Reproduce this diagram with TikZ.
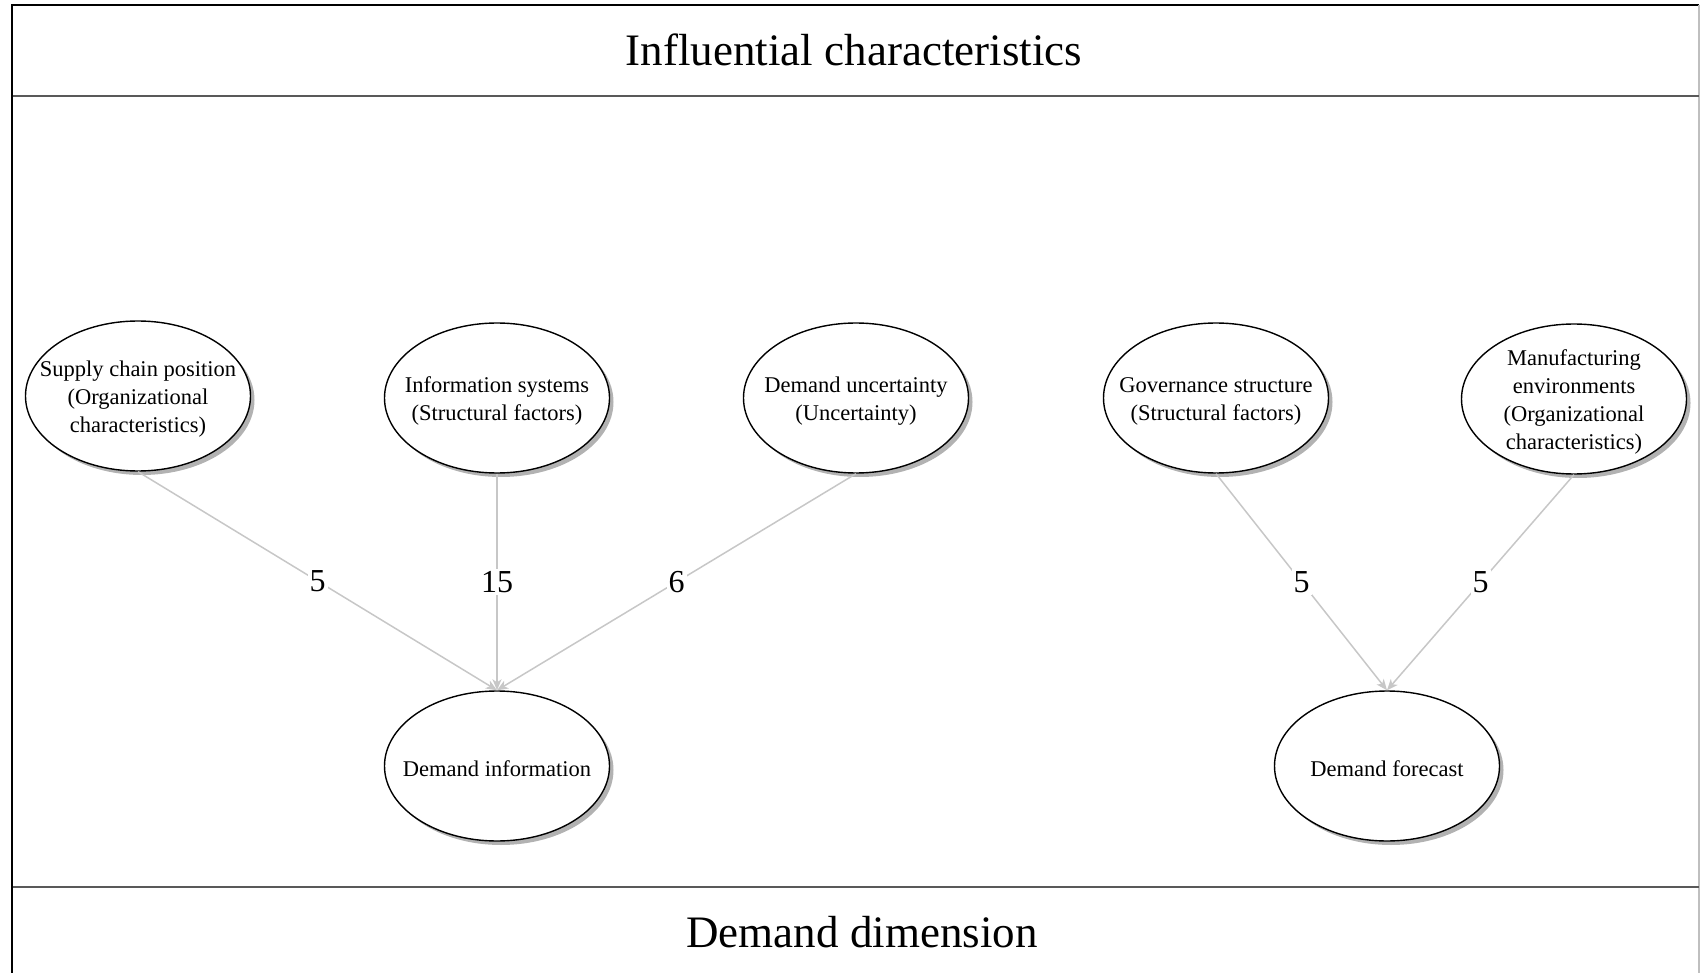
\documentclass[tikz,border=0pt]{standalone}
\usepackage{fontspec}
\setmainfont{Liberation Serif}
\usetikzlibrary{shapes.geometric,arrows.meta,shadows}

\tikzset{
  factor/.style={ellipse, draw=black, line width=1.4pt, fill=white,
    minimum width=225pt, minimum height=150pt, inner sep=0pt,
    drop shadow={shadow xshift=4pt, shadow yshift=-4pt, opacity=0.3, fill=black}},
  caption/.style={align=center, inner sep=0pt, yshift=-3pt,
    font=\fontsize{22.5}{28}\selectfont},
  link/.style={draw=black!22, line width=1.5pt,
    -{Stealth[length=11pt,width=9pt,inset=3pt]}},
  count/.style={fill=white, inner sep=2pt, font=\fontsize{32}{36}\selectfont},
  heading/.style={font=\fontsize{45}{50}\selectfont},
  rule/.style={line width=2.5pt, draw=black!65},
}

\begin{document}
\begin{tikzpicture}[x=1pt,y=-1pt]
  \useasboundingbox (0,0) rectangle (1700,973);

  % frame
  \draw[line width=2pt, black] (12,973) -- (12,5) -- (1699,5);
  \draw[line width=1.5pt, black!25] (1699,5) -- (1699,973);

  % header and footer bands
  \draw[rule] (13,96) -- (1699,96);
  \draw[rule] (13,887) -- (1699,887);
  \node[heading] (top) at (854,50) {Influential characteristics};
  \node[heading] (bottom) at (862,932) {Demand dimension};

  % influencing factors
  \node[factor, label={[caption]center:{Supply chain position\\(Organizational\\characteristics)}}] (scp) at (138,396) {};
  \node[factor, label={[caption]center:{Information systems\\(Structural factors)}}] (isys) at (497,398) {};
  \node[factor, label={[caption]center:{Demand uncertainty\\(Uncertainty)}}] (dunc) at (856,398) {};
  \node[factor, label={[caption]center:{Governance structure\\(Structural factors)}}] (gov) at (1216,398) {};
  \node[factor, label={[caption]center:{Manufacturing\\environments\\(Organizational\\characteristics)}}] (mfg) at (1574,399) {};

  % demand dimensions
  \node[factor, label={[caption]center:{Demand information}}] (dinfo) at (497,766) {};
  \node[factor, label={[caption]center:{Demand forecast}}] (dfc) at (1387,766) {};

  % links with counts
  \draw[link] (scp.south) -- node[count, pos=0.5] {5} (dinfo.north);
  \draw[link] (isys.south) -- node[count, pos=0.5] {15} (dinfo.north);
  \draw[link] (dunc.south) -- node[count, pos=0.5] {6} (dinfo.north);
  \draw[link] (gov.south) -- node[count, pos=0.5] {5} (dfc.north);
  \draw[link] (mfg.south) -- node[count, pos=0.5] {5} (dfc.north);
\end{tikzpicture}
\end{document}
